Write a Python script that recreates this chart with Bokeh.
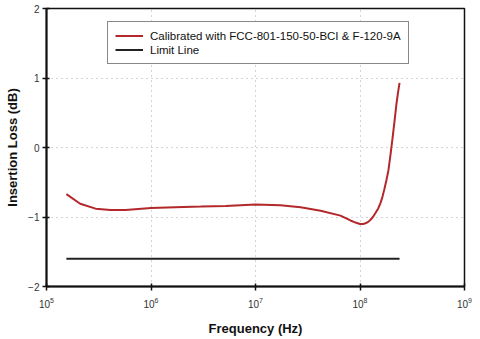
from bokeh.plotting import figure
from bokeh.models import FixedTicker, Legend, LegendItem, LogTickFormatter
from bokeh.embed import file_html
from bokeh.resources import INLINE

# Data
freq_hz = [1.55e5, 2.1e5, 2.95e5, 4.1e5, 5.7e5, 1.0e6, 1.7e6, 3.0e6, 5.2e6, 1.0e7,
           1.73e7, 2.7e7, 4.2e7, 6.5e7, 8.1e7, 9.06e7, 1.0e8, 1.07e8, 1.13e8, 1.2e8,
           1.26e8, 1.33e8, 1.41e8, 1.49e8, 1.57e8, 1.64e8, 1.71e8, 1.79e8, 1.87e8,
           1.96e8, 2.05e8, 2.14e8, 2.23e8, 2.31e8, 2.39e8]
loss_db = [-0.67, -0.81, -0.88, -0.90, -0.90, -0.87, -0.86, -0.85, -0.84, -0.82,
           -0.83, -0.86, -0.91, -0.98, -1.05, -1.08, -1.10, -1.10, -1.09, -1.07,
           -1.04, -1.00, -0.94, -0.88, -0.80, -0.71, -0.60, -0.47, -0.33,
           -0.10, 0.14, 0.38, 0.62, 0.79, 0.93]
limit_freq = [1.55e5, 2.39e8]
limit_db = [-1.6, -1.6]
x_ticks = [1e5, 1e6, 1e7, 1e8, 1e9]
y_ticks = [-2, -1, 0, 1, 2]
series_label = "Calibrated with FCC-801-150-50-BCI & F-120-9A"
limit_label = "Limit Line"

FONT = "Liberation Sans"

p = figure(width=480, height=339, x_axis_type="log", output_backend="svg",
           toolbar_location=None, x_range=(1e5, 1e9), y_range=(-2, 2),
           min_border_left=46, min_border_right=16, min_border_top=8, min_border_bottom=53)

r1 = p.line(freq_hz, loss_db, line_color="#b3282b", line_width=2)
r2 = p.line(limit_freq, limit_db, line_color="#222222", line_width=2)

p.xaxis.ticker = FixedTicker(ticks=x_ticks)
p.xaxis.formatter = LogTickFormatter()
p.yaxis.ticker = FixedTicker(ticks=y_ticks)

p.xaxis.axis_label = "Frequency (Hz)"
p.yaxis.axis_label = "Insertion Loss (dB)"
for ax in (p.xaxis, p.yaxis):
    ax.axis_label_text_font = FONT
    ax.axis_label_text_font_style = "bold"
    ax.axis_label_text_font_size = "13px"
    ax.axis_label_text_color = "#111111"
    ax.major_label_text_font = FONT
    ax.major_label_text_font_size = "10px"
    ax.major_label_text_color = "#333333"
    ax.axis_line_width = 2
    ax.axis_line_color = "#111111"
    ax.major_tick_line_color = "#111111"
    ax.major_tick_line_width = 1.5
    ax.major_tick_in = 3
    ax.major_tick_out = 4
    ax.minor_tick_line_color = None
p.xaxis.axis_label_standoff = 10
p.yaxis.axis_label_standoff = 5
p.yaxis.major_label_standoff = 3
p.xaxis.major_label_standoff = 6

p.outline_line_color = "#111111"
p.outline_line_width = 1.5
p.xgrid.grid_line_color = "#aaaaaa"
p.ygrid.grid_line_color = "#aaaaaa"
p.xgrid.grid_line_dash = "1 4"
p.ygrid.grid_line_dash = "1 4"

legend = Legend(items=[LegendItem(label=series_label, renderers=[r1]),
                       LegendItem(label=limit_label, renderers=[r2])],
                location=(61, 222))
legend.label_text_font = FONT
legend.label_text_font_size = "11.5px"
legend.label_text_color = "#111111"
legend.label_height = 13
legend.glyph_height = 13
legend.glyph_width = 28
legend.label_standoff = 7
legend.spacing = 1
legend.padding = 7
legend.margin = 0
legend.border_line_color = "#111111"
legend.border_line_width = 1.5
p.add_layout(legend, "center")

open("out.html", "w").write(file_html(p, INLINE))
